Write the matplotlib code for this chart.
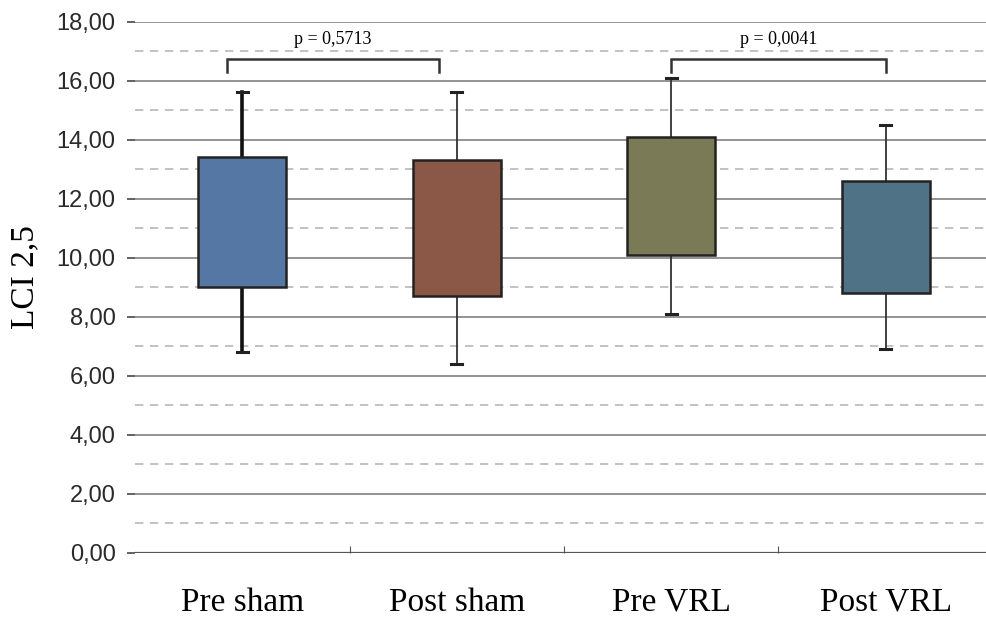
import numpy as np
import matplotlib.pyplot as plt

grupos = ['Pre sham', 'Post sham', 'Pre VRL', 'Post VRL']
whis_hi = [15.6, 15.6, 16.1, 14.5]
q3 = [13.4, 13.3, 14.1, 12.6]
mediana = [11.15, 11.0, 12.05, 10.7]
q1 = [9.0, 8.7, 10.1, 8.8]
whis_lo = [6.8, 6.4, 8.1, 6.9]
cores = ['#5577a3', '#8b5746', '#7a7a56', '#4f7287']
p_textos = ['p = 0,5713', 'p = 0,0041']
y_ticks = np.arange(0, 19, 2)


def main():
    fig = plt.figure(figsize=(9.86, 6.19), dpi=100)
    ax = fig.add_axes([0.137, 0.107, 0.87, 0.858])

    # grade
    for y in np.arange(1, 18, 2):
        ax.axhline(y, color='#b8b8b8', linestyle=(0, (5, 4)), linewidth=1.2, zorder=0)
    for y in y_ticks[1:]:
        ax.axhline(y, color='#8a8a8a', linewidth=1.3, zorder=0)
    ax.axhline(0, color='#555555', linewidth=1.6, zorder=1)

    stats = []
    for i in range(len(grupos)):
        stats.append({'med': mediana[i], 'q1': q1[i], 'q3': q3[i],
                      'whislo': whis_lo[i], 'whishi': whis_hi[i], 'fliers': []})

    pos = np.arange(len(grupos))
    bp = ax.bxp(stats, positions=pos, widths=0.41, patch_artist=True,
                showfliers=False, manage_ticks=False,
                boxprops=dict(edgecolor='#222222', linewidth=1.8),
                medianprops=dict(color='#222222', linewidth=1.4),
                whiskerprops=dict(color='#333333', linewidth=1.3),
                capprops=dict(color='#222222', linewidth=2.2))
    for patch, c in zip(bp['boxes'], cores):
        patch.set_facecolor(c)
        patch.set_zorder(3)
    # primeiro grupo com bigodes mais grossos
    for w in bp['whiskers'][:2]:
        w.set_linewidth(2.6)
        w.set_color('#111111')
    for i in range(len(grupos)):
        bp['caps'][2 * i].set_xdata([i - 0.025, i + 0.025])
        bp['caps'][2 * i + 1].set_xdata([i - 0.025, i + 0.025])

    # colchetes de significancia
    for (xa, xb), txt in zip([(-0.07, 0.915), (2.0, 3.0)], p_textos):
        ax.plot([xa, xa, xb, xb], [16.3, 16.75, 16.75, 16.3], color='#333333',
                linewidth=1.8, solid_joinstyle='miter')
        ax.text((xa + xb) / 2, 17.1, txt, ha='center', va='bottom',
                family='Liberation Serif', fontsize=13)

    ax.set_xlim(-0.5, 3.5)
    ax.set_ylim(0, 18)
    ax.set_yticks(y_ticks)
    ax.set_yticklabels([f'{v:.2f}'.replace('.', ',') for v in y_ticks],
                       family='Liberation Sans', fontsize=17, color='#2a2a2a')
    ax.tick_params(axis='y', length=6, width=1.3, color='#555555', pad=8)
    ax.set_xticks(pos + 0.5)
    ax.set_xticklabels([])
    ax.set_xticks(pos, minor=True)
    ax.set_xticklabels(grupos, minor=True, family='Liberation Serif', fontsize=24)
    ax.tick_params(axis='x', which='major', length=5, color='#555555', direction='in')
    ax.tick_params(axis='x', which='minor', length=0, pad=25)
    ax.set_ylabel('LCI 2,5', family='Liberation Serif', fontsize=24)
    ax.yaxis.set_label_coords(-0.11, 0.52)
    for s in ax.spines.values():
        s.set_visible(False)

    fig.savefig('out.png', dpi=100)


if __name__ == "__main__":
    main()
